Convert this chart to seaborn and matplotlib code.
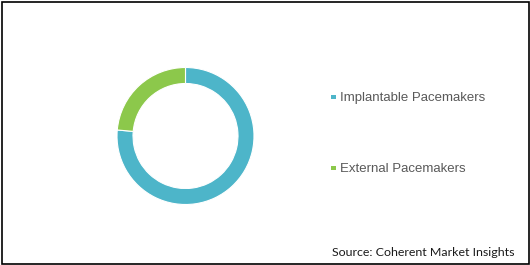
import matplotlib
matplotlib.use("Agg")
import matplotlib.pyplot as plt
import seaborn as sns
from matplotlib.patches import Rectangle

categories = ["Implantable Pacemakers", "External Pacemakers"]
shares = [76.4, 23.6]
colors = ["#4DB5C9", "#8CC84B"]
source = "Source: Coherent Market Insights"

sns.set_theme(style="white")
plt.rcParams['font.family'] = ['Liberation Sans', 'DejaVu Sans']

W, H = 530, 265
fig = plt.figure(figsize=(W / 100, H / 100), dpi=100)
fig.patch.set_facecolor("white")

cx, cy, r = 185.5, 136.0, 68.5
ax = fig.add_axes([(cx - r) / W, (H - cy - r) / H, 2 * r / W, 2 * r / H])
ax.pie(shares, colors=colors, startangle=90, counterclock=False, radius=1.0,
       wedgeprops=dict(width=16 / 68.5, edgecolor="white", linewidth=0.8))
ax.set_xlim(-1, 1)
ax.set_ylim(-1, 1)
ax.set_aspect("equal")
ax.axis("off")

# legend
leg_y = [96.5, 167.5]
for lab, col, y in zip(categories, colors, leg_y):
    fig.patches.append(Rectangle((331 / W, (H - y - 2.5) / H), 4.5 / W, 4.5 / H,
                                 transform=fig.transFigure, facecolor=col,
                                 edgecolor="none"))
    fig.text(340 / W, (H - y - 5) / H, lab, fontsize=9.5, color="#595959",
             ha="left", va="baseline")

fig.text(514 / W, (H - 256) / H, source, fontsize=8.9, color="#1a1a1a",
         ha="right", va="baseline", family=["Lato", "DejaVu Sans"])

# outer border
fig.patches.append(Rectangle((1.5 / W, 1.5 / H), (W - 3) / W, (H - 3) / H,
                             transform=fig.transFigure, fill=False,
                             edgecolor="black", linewidth=1.2))

fig.savefig("out.png", dpi=100, facecolor="white")
